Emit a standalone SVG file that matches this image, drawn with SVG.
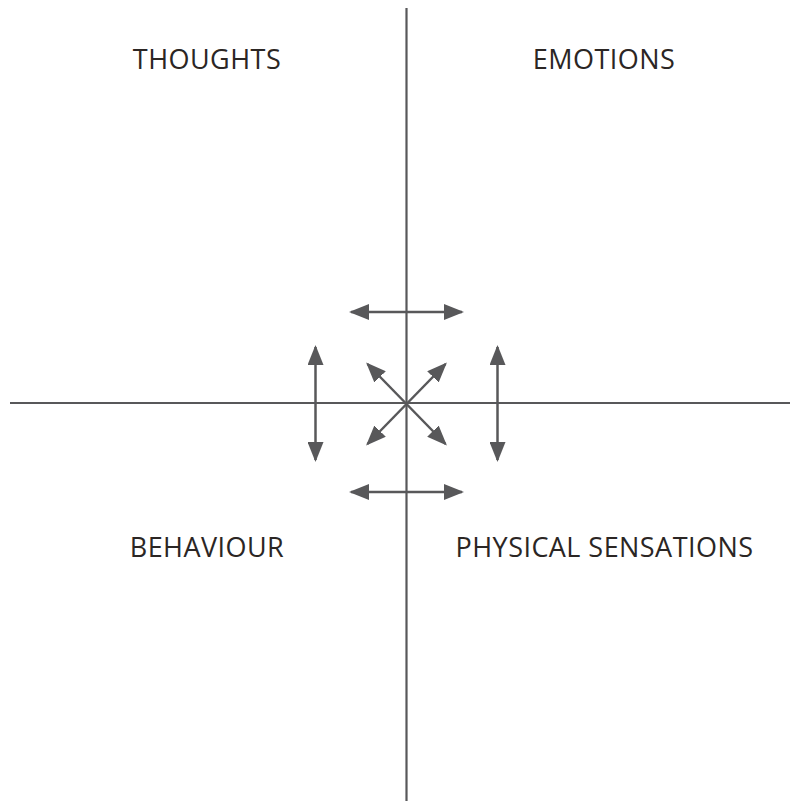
<svg xmlns="http://www.w3.org/2000/svg" width="790" height="801" viewBox="0 0 790 801">
<style>
.ax{stroke:#58585a;stroke-width:2.2;fill:none}
.ar{stroke:#58585a;stroke-width:2.5;fill:none;marker-start:url(#h);marker-end:url(#h)}
.lb{font-family:"Open Sans","Liberation Sans",sans-serif;font-size:27px;letter-spacing:0.45px;fill:#2b2624;text-anchor:middle}
</style>
<defs>
<marker id="h" viewBox="0 0 20 16" refX="18" refY="8" markerWidth="20" markerHeight="16" markerUnits="userSpaceOnUse" orient="auto-start-reverse">
<path d="M0,0 L20,8 L0,16 Z" fill="#58585a"/>
</marker>
</defs>
<rect width="790" height="801" fill="#fff"/>
<g id="connectors">
<line class="ax" x1="406.5" y1="8" x2="406.5" y2="801"/>
<line class="ax" x1="10" y1="403" x2="790" y2="403"/>
<line class="ar" x1="351" y1="312" x2="462" y2="312"/>
<line class="ar" x1="351" y1="492" x2="462" y2="492"/>
<line class="ar" x1="315.5" y1="347" x2="315.5" y2="460"/>
<line class="ar" x1="497.5" y1="347" x2="497.5" y2="460"/>
<line class="ar" x1="367.5" y1="364" x2="445.5" y2="444"/>
<line class="ar" x1="445.5" y1="364" x2="367.5" y2="444"/>
</g>
<g id="thoughts"><text class="lb" x="207" y="69">THOUGHTS</text></g>
<g id="emotions"><text class="lb" x="604" y="69">EMOTIONS</text></g>
<g id="behaviour"><text class="lb" x="207" y="556.5">BEHAVIOUR</text></g>
<g id="physical"><text class="lb" x="604.5" y="556.5">PHYSICAL SENSATIONS</text></g>
</svg>
